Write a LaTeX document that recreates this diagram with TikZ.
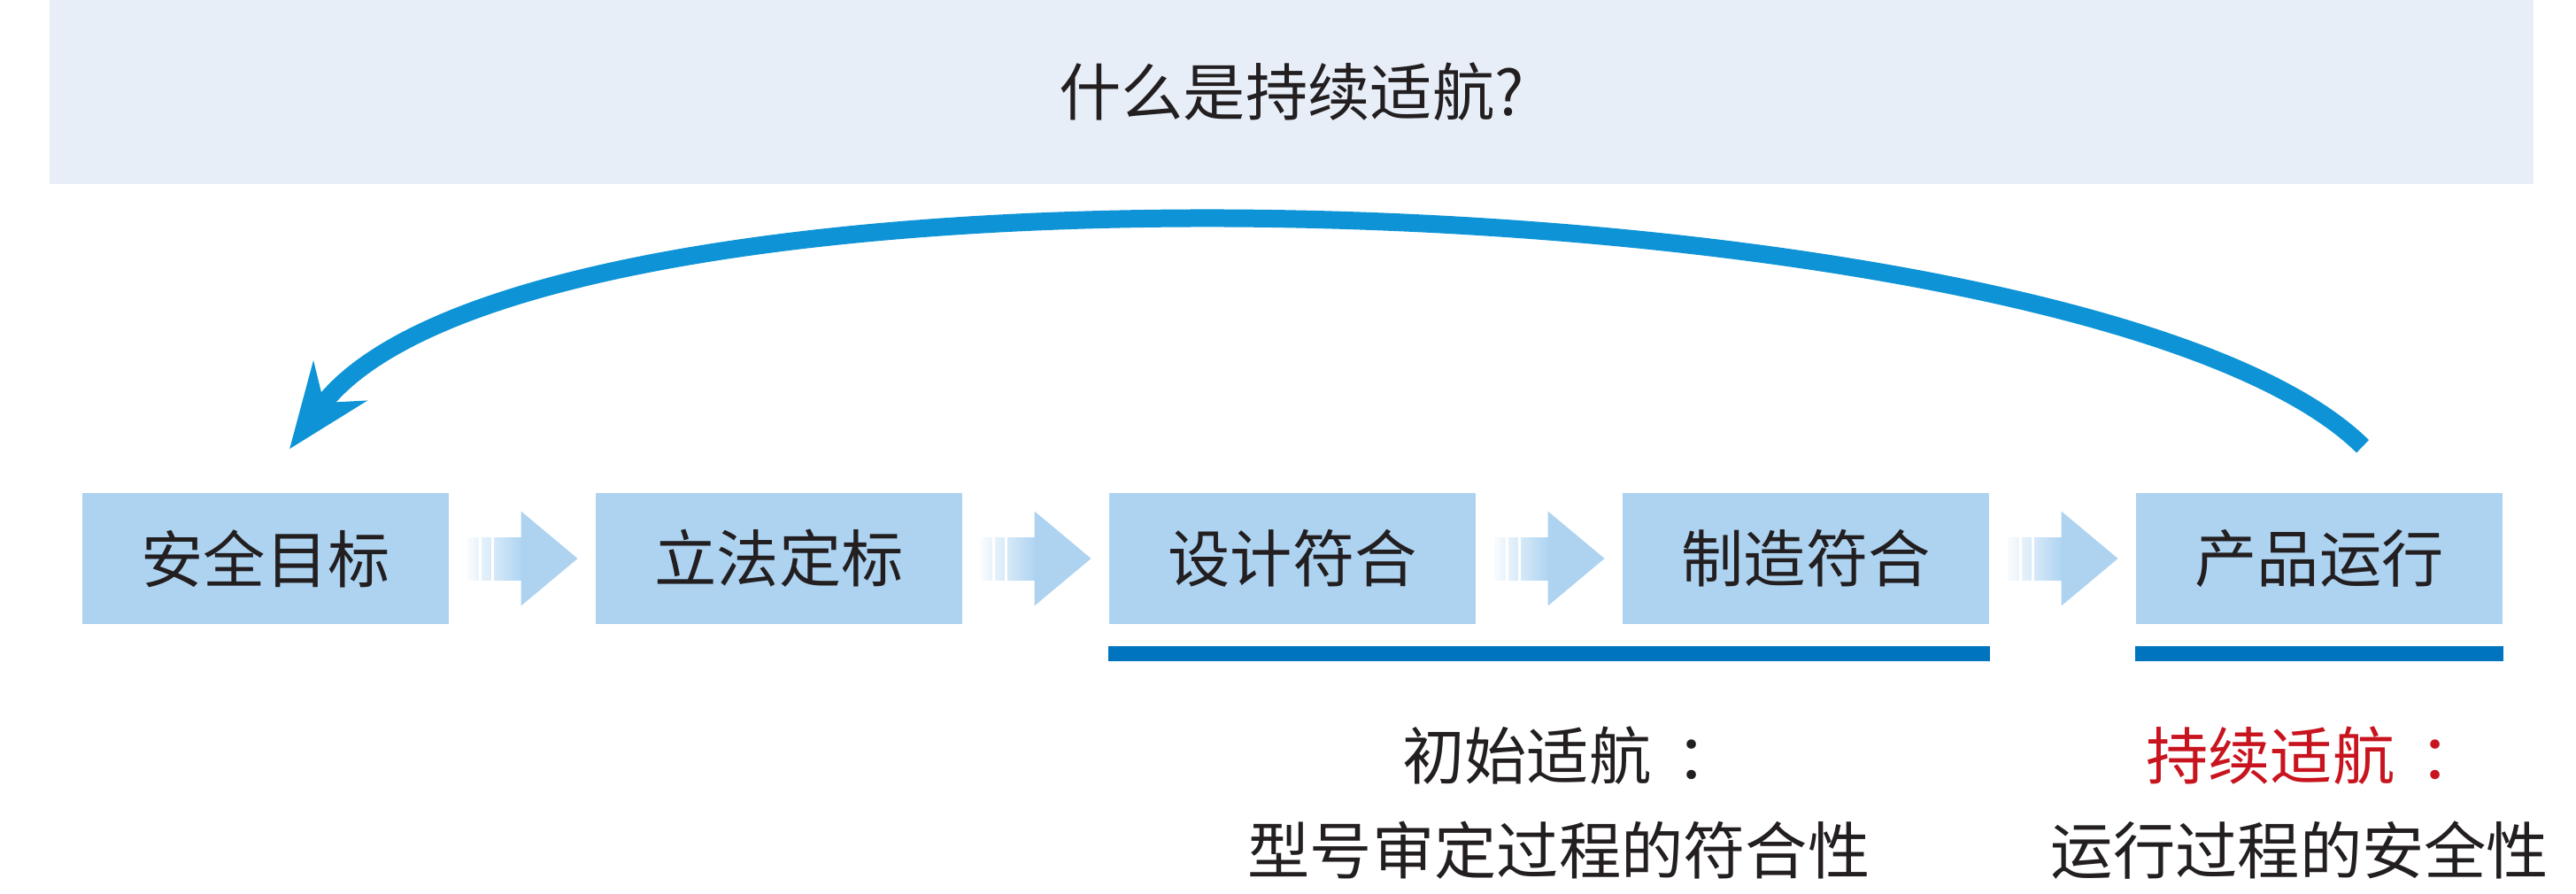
\documentclass[tikz,border=0pt]{standalone}
\usepackage{fontspec}
\setmainfont{Noto Sans CJK SC}
\usepackage{xcolor}
\usepackage{tikz}
\usetikzlibrary{arrows.meta, positioning, calc}

\definecolor{boxfill}{RGB}{173,211,241}
\definecolor{bannerfill}{RGB}{231,238,248}
\definecolor{loopblue}{RGB}{14,148,214}
\definecolor{barblue}{RGB}{0,116,190}
\definecolor{inkred}{RGB}{200,20,30}
\definecolor{ink}{RGB}{35,31,32}

\begin{document}
\begin{tikzpicture}[
  font=\fontsize{20pt}{24pt}\selectfont, text=ink,
  stage/.style={fill=boxfill, minimum width=4.14cm, minimum height=1.48cm, inner sep=0pt, align=center},
  banner/.style={fill=bannerfill, minimum width=28.06cm, minimum height=2.08cm, inner sep=0pt},
  bar/.style={draw=barblue, line width=0.17cm},
  loop arrow/.style={draw=loopblue, line width=0.2cm, -{Stealth[length=0.95cm, width=0.74cm, inset=0.3cm]}},
  note/.style={inner sep=0pt}
]
\useasboundingbox (0,0) rectangle (29.10,10.09);

\node[banner] (title) at (14.59,9.05) {什么是持续适航?};

\node[stage] (b1) at (3.00,3.78) {安全目标};
\node[stage] (b2) at (8.80,3.78) {立法定标};
\node[stage] (b3) at (14.60,3.78) {设计符合};
\node[stage] (b4) at (20.40,3.78) {制造符合};
\node[stage] (b5) at (26.20,3.78) {产品运行};

\foreach \a/\b in {b1/b2, b2/b3, b3/b4, b4/b5} {
  \coordinate (m\a) at ($(\a.east)!0.5!(\b.west)$);
  \shade[left color=boxfill!8, right color=boxfill] ($(m\a)+(-0.615,-0.24)$) rectangle ($(m\a)+(0.01,0.24)$);
  \fill[white] ($(m\a)+(-0.495,-0.25)$) rectangle ($(m\a)+(-0.465,0.25)$);
  \fill[white] ($(m\a)+(-0.355,-0.25)$) rectangle ($(m\a)+(-0.325,0.25)$);
  \fill[boxfill] ($(m\a)+(-0.015,0.535)$) -- ($(m\a)+(0.625,0)$) -- ($(m\a)+(-0.015,-0.535)$) -- cycle;
}

\draw[bar] ([yshift=-0.325cm]b3.south west) -- ([yshift=-0.325cm]b4.south east);
\draw[bar] ([yshift=-0.325cm]b5.south west) -- ([yshift=-0.325cm]b5.south east);

\draw[loop arrow] ([xshift=0.49cm,yshift=0.52cm]b5.north) .. controls (23.61,8.09) and (6.00,8.69) .. ([xshift=0.27cm,yshift=0.49cm]b1.north);

\node[note] (init) at (17.74,1.55) {初始适航\hspace{0.4em}：};
\node[note] (initdesc) at (17.61,0.48) {型号审定过程的符合性};
\node[note, text=inkred] (cont) at (26.14,1.55) {持续适航\hspace{0.4em}：};
\node[note] (contdesc) at (25.98,0.48) {运行过程的安全性};
\end{tikzpicture}
\end{document}
